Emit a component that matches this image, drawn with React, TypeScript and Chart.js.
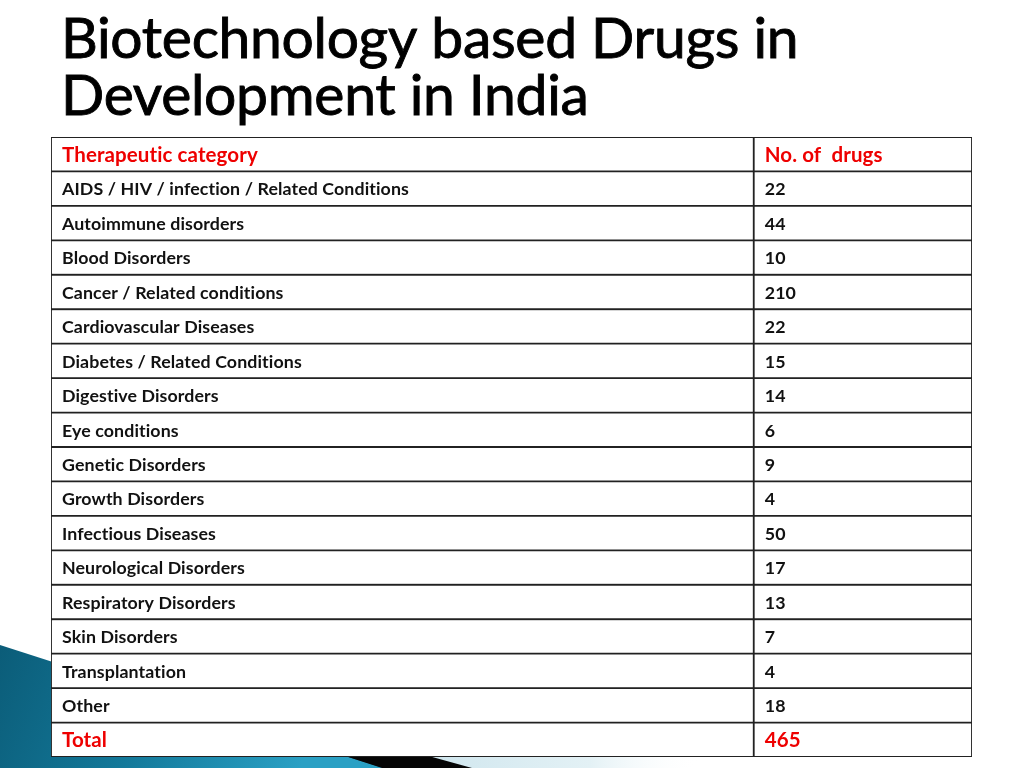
import React, { useEffect, useRef } from "react";
import { Chart, registerables } from "chart.js";

Chart.register(...registerables);

// ---- data ----
const TITLE_LINES = ["Biotechnology based Drugs in", "Development in India"];
const HEADER_CATEGORY = "Therapeutic category";
const HEADER_COUNT = "No. of  drugs";
const CATEGORIES = [
  "AIDS / HIV / infection / Related Conditions",
  "Autoimmune disorders",
  "Blood Disorders",
  "Cancer / Related conditions",
  "Cardiovascular Diseases",
  "Diabetes / Related Conditions",
  "Digestive Disorders",
  "Eye conditions",
  "Genetic Disorders",
  "Growth Disorders",
  "Infectious Diseases",
  "Neurological Disorders",
  "Respiratory Disorders",
  "Skin Disorders",
  "Transplantation",
  "Other",
];
const DRUG_COUNTS = [22, 44, 10, 210, 22, 15, 14, 6, 9, 4, 50, 17, 13, 7, 4, 18];
const TOTAL_LABEL = "Total";
const TOTAL_COUNT = 465;

// ---- layout / style ----
const SPLIT = 0.763; // fraction of table width for first column
const RED = "#ee0000";
const FONT = "Lato, 'Noto Sans', sans-serif";

const rowLabels = [HEADER_CATEGORY, ...CATEGORIES, TOTAL_LABEL];
const rowValues = [HEADER_COUNT, ...DRUG_COUNTS.map(String), String(TOTAL_COUNT)];
const lastRow = rowLabels.length - 1;

const backgroundPlugin = {
  id: "slideBackground",
  beforeDraw(chart: any) {
    const ctx = chart.ctx as CanvasRenderingContext2D;
    const W = chart.width;
    const H = chart.height;
    ctx.save();
    ctx.fillStyle = "#ffffff";
    ctx.fillRect(0, 0, W, H);

    // light blue band
    const lg = ctx.createLinearGradient(425, 0, 700, 0);
    lg.addColorStop(0, "#cfe6ee");
    lg.addColorStop(0.6, "#e3f1f5");
    lg.addColorStop(1, "rgba(255,255,255,0)");
    ctx.fillStyle = lg;
    ctx.beginPath();
    ctx.moveTo(420, 757);
    ctx.lineTo(720, 757);
    ctx.lineTo(720, H);
    ctx.lineTo(470, H);
    ctx.closePath();
    ctx.fill();

    // black stripe
    ctx.fillStyle = "#050505";
    ctx.beginPath();
    ctx.moveTo(340, 755);
    ctx.lineTo(425, 755);
    ctx.lineTo(472, H);
    ctx.lineTo(380, H);
    ctx.closePath();
    ctx.fill();

    // teal swoosh
    const tg = ctx.createLinearGradient(0, 640, 300, 768);
    tg.addColorStop(0, "#0b5c78");
    tg.addColorStop(0.5, "#13799a");
    tg.addColorStop(1, "#2aa0c4");
    ctx.fillStyle = tg;
    ctx.beginPath();
    ctx.moveTo(0, 645);
    ctx.lineTo(382, H);
    ctx.lineTo(0, H);
    ctx.closePath();
    ctx.fill();

    // title
    ctx.fillStyle = "#000000";
    ctx.strokeStyle = "#000000";
    ctx.lineWidth = 0.9;
    ctx.textAlign = "left";
    ctx.textBaseline = "alphabetic";
    ctx.font = `57px ${FONT}`;
    (ctx as any).letterSpacing = "-0.3px";
    ctx.fillText(TITLE_LINES[0], 61, 58);
    ctx.strokeText(TITLE_LINES[0], 61, 58);
    ctx.fillText(TITLE_LINES[1], 61, 115);
    ctx.strokeText(TITLE_LINES[1], 61, 115);
    ctx.restore();
  },
};

const cellTextPlugin = {
  id: "cellText",
  afterDatasetsDraw(chart: any) {
    const ctx = chart.ctx as CanvasRenderingContext2D;
    const xs = chart.scales.x;
    const ys = chart.scales.y;
    const xL = xs.getPixelForValue(0) + 11;
    const xR = xs.getPixelForValue(SPLIT) + 11;
    ctx.save();
    ctx.textAlign = "left";
    ctx.textBaseline = "middle";
    (ctx as any).letterSpacing = "0.1px";
    rowLabels.forEach((label, i) => {
      const y = ys.getPixelForValue(i);
      const emph = i === 0 || i === lastRow;
      ctx.fillStyle = emph ? RED : "#111111";
      ctx.font = emph ? `bold 20.5px ${FONT}` : `bold 17.8px ${FONT}`;
      ctx.fillText(label, xL, y + 1);
      ctx.fillText(rowValues[i], xR, y + 1);
    });
    ctx.restore();
  },
};

export default function App() {
  const ref = useRef<HTMLCanvasElement | null>(null);

  useEffect(() => {
    if (!ref.current) return;
    const cellStyle = {
      backgroundColor: "#ffffff",
      borderColor: "#222222",
      borderWidth: 1.25,
      borderSkipped: false,
      barPercentage: 1,
      categoryPercentage: 1,
      grouped: false,
    };
    const chart = new Chart(ref.current, {
      type: "bar",
      data: {
        labels: rowLabels,
        datasets: [
          { ...cellStyle, label: "category", data: rowLabels.map(() => [0, SPLIT]) },
          { ...cellStyle, label: "count", data: rowLabels.map(() => [SPLIT, 1]) },
        ] as any,
      },
      options: {
        indexAxis: "y",
        responsive: false,
        animation: false,
        events: [],
        layout: { padding: { left: 51, right: 52, top: 137, bottom: 11 } },
        scales: {
          x: { type: "linear", min: 0, max: 1, display: false },
          y: { type: "category", display: false, offset: true },
        },
        plugins: {
          legend: { display: false },
          tooltip: { enabled: false },
          title: { display: false },
        },
      } as any,
      plugins: [backgroundPlugin, cellTextPlugin],
    });
    return () => chart.destroy();
  }, []);

  return (
    <div style={{ position: "absolute", left: 0, top: 0, width: 1024, height: 768 }}>
      <canvas ref={ref} width={1024} height={768} style={{ display: "block" }} />
    </div>
  );
}
